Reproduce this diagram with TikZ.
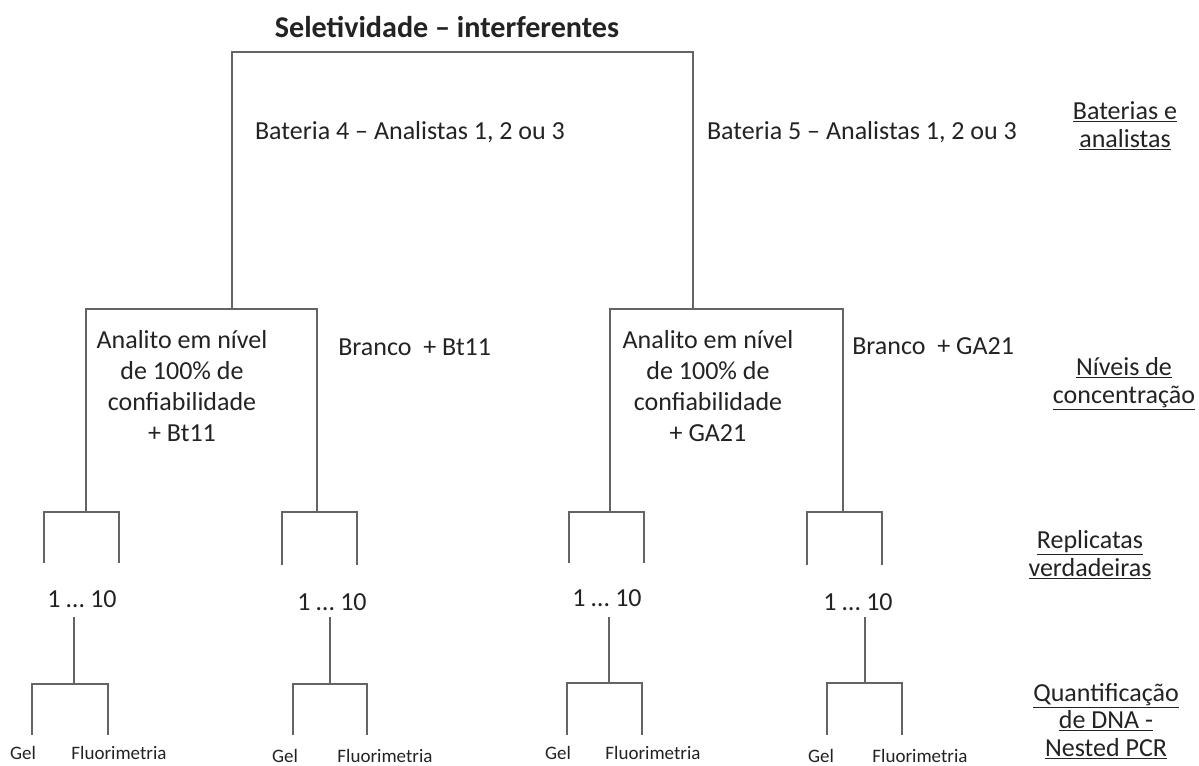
\documentclass[tikz,border=0pt]{standalone}
\usepackage{fontspec}
\setmainfont{Carlito}
\usepackage{tikz}
\definecolor{linegray}{RGB}{100,100,100}
\definecolor{textgray}{RGB}{35,35,35}
\tikzset{
    bracket/.style={draw=linegray,line width=1.5pt},
    txt/.style={text=textgray,inner sep=0pt,anchor=base,font=\fontsize{19.5}{23.25}\selectfont},
    blocktxt/.style={txt,align=center},
    leveltxt/.style={txt,align=center,font=\fontsize{19.5}{20.5}\selectfont},
    smalltxt/.style={txt,font=\fontsize{14.25}{17}\selectfont},
    titletxt/.style={txt,font=\fontsize{22.6}{26}\selectfont\bfseries}
}
\newcommand{\bracketpair}[5]{%
    \coordinate (#1l) at (#2,#4);
    \coordinate (#1r) at (#3,#4);
    \coordinate (#1lb) at (#2,#5);
    \coordinate (#1rb) at (#3,#5);
    \draw[bracket] (#1lb) -- (#1l) -- (#1r) -- (#1rb);}
\begin{document}
\begin{tikzpicture}[x=0.75pt,y=-0.75pt]
    \useasboundingbox[fill=white] (0,0) rectangle (1199,765);

    \node[titletxt] (title) at (447,37) {Seletividade – interferentes};

    \bracketpair{bat}{232}{693}{52}{309}
    \node[txt] (bat4) at (410,139) {Bateria 4 – Analistas 1, 2 ou 3};
    \node[txt] (bat5) at (862,139) {Bateria 5 – Analistas 1, 2 ou 3};

    \bracketpair{niv4}{86}{317}{309}{512}
    \bracketpair{niv5}{610}{843}{309}{512}
    \node[blocktxt] (analito4) at (182,441) {Analito em nível\\de 100\% de\\confiabilidade\\+ Bt11};
    \node[txt,anchor=base west] (branco4) at (338,355) {Branco~~+ Bt11};
    \node[blocktxt] (analito5) at (708,441) {Analito em nível\\de 100\% de\\confiabilidade\\+ GA21};
    \node[txt,anchor=base west] (branco5) at (852,354) {Branco~~+ GA21};

    \bracketpair{rep1}{44}{119}{512}{563}
    \bracketpair{rep2}{282}{357}{512}{565}
    \bracketpair{rep3}{569}{644}{512}{563}
    \bracketpair{rep4}{807}{882}{512}{565}
    \node[txt] (num1) at (82,607) {1 … 10};
    \node[txt] (num2) at (332,610) {1 … 10};
    \node[txt] (num3) at (607,606) {1 … 10};
    \node[txt] (num4) at (858,610) {1 … 10};

    \coordinate (q1s) at (74,617);
    \coordinate (q2s) at (330,617);
    \coordinate (q3s) at (609,617);
    \coordinate (q4s) at (865,617);
    \bracketpair{q1}{32}{108}{684}{735}
    \bracketpair{q2}{293}{367}{684}{735}
    \bracketpair{q3}{567}{642}{683}{735}
    \bracketpair{q4}{827}{902}{683}{735}
    \draw[bracket] (q1s) -- (q1s |- q1l);
    \draw[bracket] (q2s) -- (q2s |- q2l);
    \draw[bracket] (q3s) -- (q3s |- q3l);
    \draw[bracket] (q4s) -- (q4s |- q4l);
    \node[smalltxt] (gel1) at (23,759) {Gel};
    \node[smalltxt] (fluo1) at (119,759) {Fluorimetria};
    \node[smalltxt] (gel2) at (285,762) {Gel};
    \node[smalltxt] (fluo2) at (385,762) {Fluorimetria};
    \node[smalltxt] (gel3) at (558,759) {Gel};
    \node[smalltxt] (fluo3) at (653,759) {Fluorimetria};
    \node[smalltxt] (gel4) at (821,762) {Gel};
    \node[smalltxt] (fluo4) at (920,762) {Fluorimetria};

    \node[leveltxt] (lvbat) at (1125,147) {\underline{Baterias e}\\\underline{analistas}};
    \node[leveltxt] (lvniv) at (1124,403) {\underline{Níveis de}\\\underline{concentração}};
    \node[leveltxt] (lvrep) at (1090,576) {\underline{Replicatas}\\\underline{verdadeiras}};
    \node[leveltxt] (lvdna) at (1106,756) {\underline{Quantificação}\\\underline{de DNA -}\\\underline{Nested PCR}};
\end{tikzpicture}
\end{document}
